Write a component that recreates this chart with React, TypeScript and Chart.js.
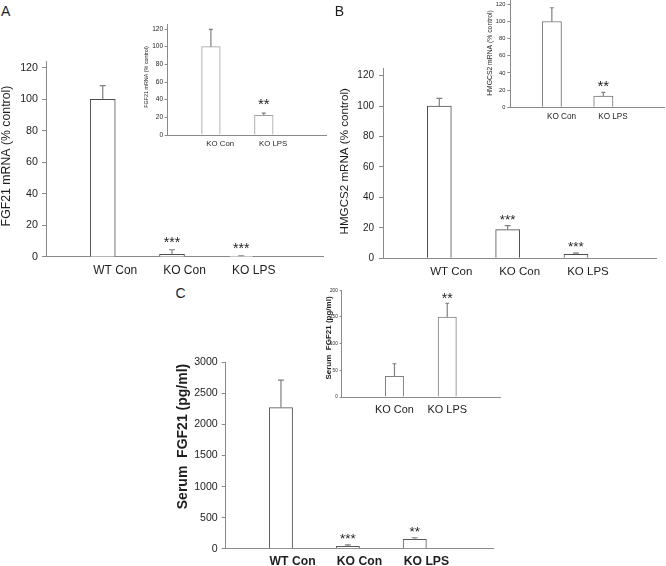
import React, { useEffect, useRef } from 'react';
import { Chart, registerables } from 'chart.js';

Chart.register(...registerables);

const FONT = "'Liberation Sans', Arial, Helvetica, sans-serif";

// ---------------- data ----------------
const mainCategories = ['WT Con', 'KO Con', 'KO LPS'];
const insetCategories = ['KO Con', 'KO LPS'];

const fgf21Values = [100, 1.7, 0.5];
const fgf21Errors = [8.6, 2.9, 0.3];
const fgf21Stars = ['', '***', '***'];

const fgf21InsetValues = [100, 22.3];
const fgf21InsetErrors = [19.5, 2.5];
const fgf21InsetStars = ['', '**'];

const hmgcs2Values = [100, 18.8, 2.6];
const hmgcs2Errors = [5, 2.7, 0.8];
const hmgcs2Stars = ['', '***', '***'];

const hmgcs2InsetValues = [100, 13];
const hmgcs2InsetErrors = [16, 4.5];
const hmgcs2InsetStars = ['', '**'];

const serumValues = [2270, 38, 150];
const serumErrors = [445, 22, 26];
const serumStars = ['', '***', '**'];

const serumInsetValues = [38.8, 150];
const serumInsetErrors = [23.5, 25.7];
const serumInsetStars = ['', '**'];

const percentTicks = [0, 20, 40, 60, 80, 100, 120];
const serumTicks = [0, 500, 1000, 1500, 2000, 2500, 3000];
const serumInsetTicks = [0, 50, 100, 150, 200];

// ---------------- layout / style ----------------
type Panel = {
  key: string;
  area: { l: number; t: number; r: number; b: number };
  margin: { l: number; t: number; r: number; b: number };
  categories: string[];
  values: number[];
  errors: number[];
  stars: string[];
  yMax: number;
  yTicks: number[];
  split: boolean; // second (empty) series in each category, as in the source spreadsheet
  tickLen: number;
  yFont: number;
  yPad: number;
  xFont: number;
  xPad: number;
  xBold: boolean;
  bar: number;
  barBorder: string;
  cap: number;
  starSize: number;
  starGap: number;
  title: { text: string; x: number; y: number; size: number; bold: boolean };
};

const AXIS = '#8a8a8a';
const ERR = '#808080';
const TEXT = '#1e1e1e';

const panels: Panel[] = [
  {
    key: 'A',
    area: { l: 46, t: 61, r: 323, b: 257 },
    margin: { l: 46, t: 10, r: 8, b: 24 },
    categories: mainCategories,
    values: fgf21Values,
    errors: fgf21Errors,
    stars: fgf21Stars,
    yMax: 124,
    yTicks: percentTicks,
    split: true,
    tickLen: 4,
    yFont: 10.7,
    yPad: 4,
    xFont: 12,
    xPad: 6.5,
    xBold: false,
    bar: 25,
    barBorder: '#4d4d4d',
    cap: 3,
    starSize: 14,
    starGap: 11,
    title: { text: 'FGF21 mRNA (% control)', x: 6.5, y: 156, size: 12.3, bold: false },
  },
  {
    key: 'B',
    area: { l: 383, t: 66.7, r: 656.3, b: 258.3 },
    margin: { l: 48, t: 10, r: 8, b: 24 },
    categories: mainCategories,
    values: hmgcs2Values,
    errors: hmgcs2Errors,
    stars: hmgcs2Stars,
    yMax: 125,
    yTicks: percentTicks,
    split: true,
    tickLen: 4,
    yFont: 10,
    yPad: 5,
    xFont: 11.5,
    xPad: 6.5,
    xBold: false,
    bar: 24,
    barBorder: '#4d4d4d',
    cap: 3,
    starSize: 13.5,
    starGap: 9.5,
    title: { text: 'HMGCS2 mRNA (% control)', x: 344.7, y: 161.3, size: 11.6, bold: false },
  },
  {
    key: 'C',
    area: { l: 225.7, t: 361.7, r: 493.3, b: 548.7 },
    margin: { l: 52, t: 10, r: 8, b: 20 },
    categories: mainCategories,
    values: serumValues,
    errors: serumErrors,
    stars: serumStars,
    yMax: 3000,
    yTicks: serumTicks,
    split: true,
    tickLen: 4,
    yFont: 10.6,
    yPad: 4,
    xFont: 12.2,
    xPad: 5.7,
    xBold: true,
    bar: 23.3,
    barBorder: '#5a5a5a',
    cap: 3,
    starSize: 13.5,
    starGap: 9.5,
    title: { text: 'Serum  FGF21 (pg/ml)', x: 183, y: 436.5, size: 14, bold: true },
  },
  {
    key: 'Ai',
    area: { l: 167.3, t: 24, r: 326, b: 135 },
    margin: { l: 26, t: 6, r: 6, b: 14 },
    categories: insetCategories,
    values: fgf21InsetValues,
    errors: fgf21InsetErrors,
    stars: fgf21InsetStars,
    yMax: 125.7,
    yTicks: percentTicks,
    split: true,
    tickLen: 2.7,
    yFont: 6.5,
    yPad: 1.5,
    xFont: 7.8,
    xPad: 4.3,
    xBold: false,
    bar: 18.6,
    barBorder: '#a0a0a0',
    cap: 2,
    starSize: 15,
    starGap: 12.7,
    title: { text: 'FGF21 mRNA (% control)', x: 147, y: 77, size: 5.4, bold: false },
  },
  {
    key: 'Bi',
    area: { l: 510, t: 0, r: 665, b: 107.3 },
    margin: { l: 26, t: 6, r: 4, b: 14 },
    categories: insetCategories,
    values: hmgcs2InsetValues,
    errors: hmgcs2InsetErrors,
    stars: hmgcs2InsetStars,
    yMax: 125,
    yTicks: percentTicks,
    split: true,
    tickLen: 2.7,
    yFont: 5.7,
    yPad: 2,
    xFont: 8.2,
    xPad: 4.5,
    xBold: false,
    bar: 19.3,
    barBorder: '#707070',
    cap: 2,
    starSize: 15,
    starGap: 10,
    title: { text: 'HMGCS2 mRNA (% control)', x: 490.5, y: 53, size: 6.8, bold: false },
  },
  {
    key: 'Ci',
    area: { l: 341.7, t: 290.3, r: 500, b: 397 },
    margin: { l: 20, t: 6, r: 10, b: 20 },
    categories: insetCategories,
    values: serumInsetValues,
    errors: serumInsetErrors,
    stars: serumInsetStars,
    yMax: 200,
    yTicks: serumInsetTicks,
    split: false,
    tickLen: 2,
    yFont: 4.6,
    yPad: 2,
    xFont: 10.9,
    xPad: 6.8,
    xBold: false,
    bar: 18.3,
    barBorder: '#808080',
    cap: 2,
    starSize: 14,
    starGap: 8,
    title: { text: 'Serum  FGF21 (pg/ml)', x: 329.2, y: 338, size: 8, bold: true },
  },
];

// ---------------- plugin: error bars, stars, axis title ----------------
const errorBarPlugin = {
  id: 'errorBars',
  afterDatasetsDraw(chart: any, _args: any, opts: any) {
    const { ctx } = chart;
    const meta = chart.getDatasetMeta(0);
    const yScale = chart.scales.y;
    const data = chart.data.datasets[0].data;
    ctx.save();
    meta.data.forEach((bar: any, i: number) => {
      const v = data[i];
      const e = opts.errors[i];
      if (v == null || e == null) return;
      const x = bar.x;
      const yTop = yScale.getPixelForValue(v + e);
      const yBase = bar.y;
      ctx.strokeStyle = ERR;
      ctx.lineWidth = 1.2;
      ctx.beginPath();
      ctx.moveTo(x, yBase);
      ctx.lineTo(x, yTop);
      ctx.moveTo(x - opts.cap, yTop);
      ctx.lineTo(x + opts.cap, yTop);
      ctx.stroke();
      const s = opts.stars[i];
      if (s) {
        ctx.fillStyle = TEXT;
        ctx.font = `${opts.starSize}px ${FONT}`;
        ctx.textAlign = 'center';
        ctx.textBaseline = 'alphabetic';
        ctx.fillText(s, x, yTop - opts.starGap + 0.58 * opts.starSize);
      }
    });
    const t = opts.title;
    ctx.translate(t.x, t.y);
    ctx.rotate(-Math.PI / 2);
    ctx.fillStyle = TEXT;
    ctx.font = `${t.bold ? 'bold ' : ''}${t.size}px ${FONT}`;
    ctx.textAlign = 'center';
    ctx.textBaseline = 'middle';
    ctx.fillText(t.text, 0, 0);
    ctx.restore();
  },
};

function geometry(p: Panel) {
  const L = Math.round(p.area.l - p.margin.l);
  const T = Math.round(p.area.t - p.margin.t);
  const W = Math.round(p.area.r + p.margin.r) - L;
  const H = Math.round(p.area.b + p.margin.b) - T;
  return {
    L,
    T,
    W,
    H,
    yW: p.area.l - L,
    padTop: p.area.t - T,
    padRight: L + W - p.area.r,
    xH: T + H - p.area.b,
  };
}

function buildConfig(p: Panel, g: ReturnType<typeof geometry>): any {
  const barStyle = {
    backgroundColor: '#ffffff',
    borderColor: p.barBorder,
    borderWidth: 1,
    barThickness: p.bar,
  };
  const labels = ['', ...p.categories, ''];
  const datasets: any[] = [{ ...barStyle, data: [null, ...p.values, null] }];
  if (p.split) datasets.push({ ...barStyle, data: labels.map(() => null) });
  const errs = [null, ...p.errors, null];
  const stars = ['', ...p.stars, ''];
  return {
    type: 'bar',
    data: { labels, datasets },
    plugins: [errorBarPlugin],
    options: {
      responsive: false,
      maintainAspectRatio: false,
      animation: false,
      events: [],
      layout: { padding: { top: g.padTop, right: g.padRight, left: 0, bottom: 0 } },
      plugins: {
        legend: { display: false },
        tooltip: { enabled: false },
        title: { display: false },
        errorBars: {
          errors: errs,
          stars,
          cap: p.cap,
          starSize: p.starSize,
          starGap: p.starGap,
          title: { ...p.title, x: p.title.x - g.L, y: p.title.y - g.T },
        },
      },
      scales: {
        x: {
          type: 'category',
          offset: false,
          grid: { display: false, drawTicks: false, offset: false },
          border: { display: true, color: AXIS, width: 1 },
          ticks: {
            autoSkip: false,
            maxRotation: 0,
            minRotation: 0,
            padding: p.xPad,
            color: TEXT,
            font: { family: FONT, size: p.xFont, weight: p.xBold ? 'bold' : 'normal' },
          },
          afterFit: (s: any) => {
            s.height = g.xH;
          },
        },
        y: {
          type: 'linear',
          min: 0,
          max: p.yMax,
          afterBuildTicks: (s: any) => {
            s.ticks = p.yTicks.map((v) => ({ value: v }));
          },
          grid: {
            display: true,
            drawOnChartArea: false,
            drawTicks: true,
            tickLength: p.tickLen,
            color: AXIS,
            lineWidth: 1,
          },
          border: { display: true, color: AXIS, width: 1 },
          ticks: {
            padding: p.yPad,
            color: TEXT,
            font: { family: FONT, size: p.yFont },
            callback: (v: number) => String(v),
          },
          afterFit: (s: any) => {
            s.width = g.yW;
          },
        },
      },
    },
  };
}

function PanelChart({ p }: { p: Panel }) {
  const ref = useRef<HTMLCanvasElement>(null);
  const g = geometry(p);
  useEffect(() => {
    if (!ref.current) return;
    const chart = new Chart(ref.current, buildConfig(p, g));
    return () => chart.destroy();
  }, []);
  return (
    <canvas
      ref={ref}
      width={g.W}
      height={g.H}
      style={{ position: 'absolute', left: g.L, top: g.T, width: g.W, height: g.H }}
    />
  );
}

const letterStyle: React.CSSProperties = {
  position: 'absolute',
  fontFamily: FONT,
  fontSize: 14,
  lineHeight: '14px',
  color: TEXT,
};

export default function App() {
  return (
    <div
      style={{
        position: 'absolute',
        left: 0,
        top: 0,
        width: 666,
        height: 566,
        background: '#ffffff',
        overflow: 'hidden',
      }}
    >
      {panels.map((p) => (
        <PanelChart key={p.key} p={p} />
      ))}
      <div style={{ ...letterStyle, left: 1, top: 3.5 }}>A</div>
      <div style={{ ...letterStyle, left: 334.7, top: 3.5 }}>B</div>
      <div style={{ ...letterStyle, left: 175.5, top: 286 }}>C</div>
    </div>
  );
}
